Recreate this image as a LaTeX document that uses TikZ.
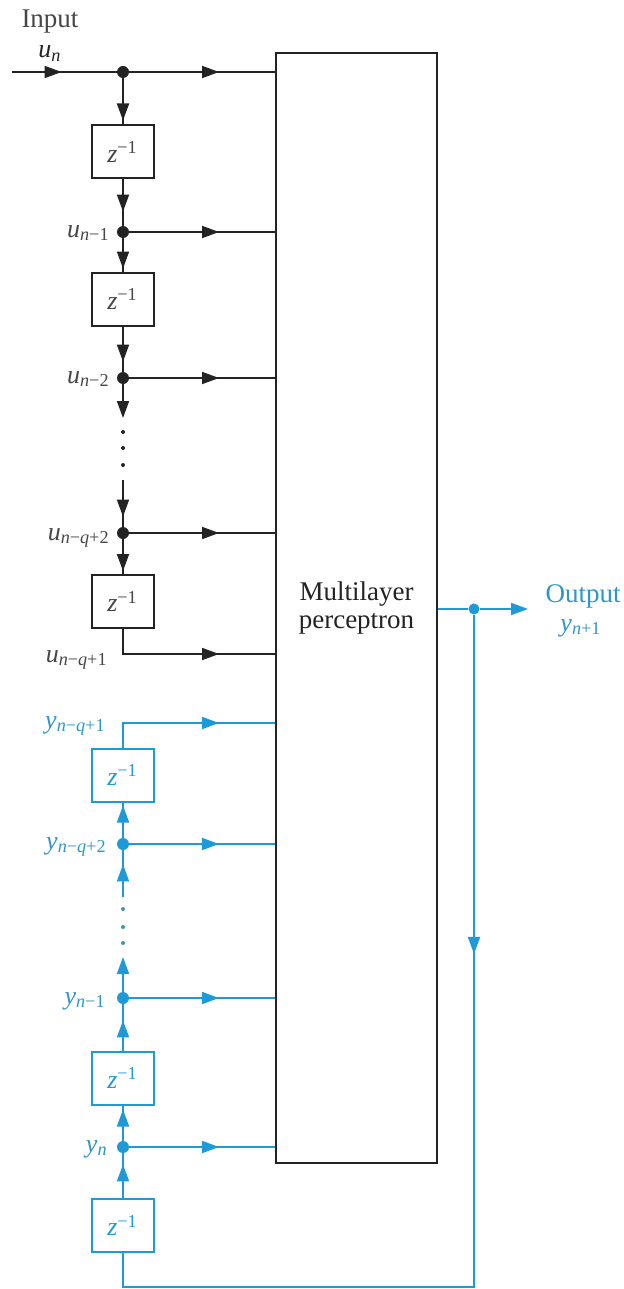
\documentclass[tikz,border=0pt]{standalone}
\usepackage{fontspec}
\setmainfont{Liberation Serif}
\usetikzlibrary{arrows.meta,decorations.markings}
\definecolor{fbc}{RGB}{30,155,215}
\definecolor{ink}{RGB}{35,35,35}
\definecolor{txt}{RGB}{70,70,70}
\newcommand{\sublab}[2]{\textit{#1}\textsubscript{#2}}
\newcommand{\zinv}{\textit{z}\textsuperscript{−1}}
\tikzset{
  markarrow/.style={postaction={decorate},decoration={markings,mark=at position #1 with {\arrow{>}}}},
  delay/.style={draw,minimum width=31pt,minimum height=26.5pt,inner sep=0pt,line width=1pt,font=\fontsize{13}{15}\selectfont},
  dotnode/.style={circle,fill,inner sep=0pt,minimum size=6pt},
  smalldot/.style={circle,fill,inner sep=0pt,minimum size=2pt},
  wire/.style={line width=0.9pt},
  lab/.style={font=\fontsize{13}{15}\selectfont,inner sep=0pt},
  bigtext/.style={font=\fontsize{13.5}{13.5}\selectfont,inner sep=0pt},
}
\begin{document}
\begin{tikzpicture}[x=0.5pt,y=-0.5pt,>={Triangle[length=8.5pt,width=6pt]},line join=miter]
\useasboundingbox (0,0) rectangle (623,1289);
% multilayer perceptron
\node[draw=ink,line width=1pt,minimum width=80.5pt,minimum height=555pt,inner sep=0pt,align=center,bigtext,text=ink] (mlp) at (356.5,608) {Multilayer\\[0.5pt]perceptron};
% black delay line
\coordinate (in) at (12,72);
\node[dotnode,ink] (d0) at (123,72) {};
\node[delay,draw=ink,text=txt] (z1) at (122.5,152) {\zinv};
\node[dotnode,ink] (d1) at (123,232) {};
\node[delay,draw=ink,text=txt] (z2) at (122.5,299) {\zinv};
\node[dotnode,ink] (d2) at (123,378) {};
\coordinate (c1) at (123,418);
\node[smalldot,ink] (e1) at (123,432) {};
\node[smalldot,ink] (e2) at (123,448) {};
\node[smalldot,ink] (e3) at (123,465) {};
\coordinate (c2) at (123,480);
\node[dotnode,ink] (d3) at (123,533) {};
\node[delay,draw=ink,text=txt] (z3) at (122.5,601.5) {\zinv};
\coordinate (c3) at (123,654);
% blue delay line
\coordinate (c4) at (123,723);
\node[delay,draw=fbc,text=fbc] (z4) at (122.5,775) {\zinv};
\node[dotnode,fbc] (d4) at (123,844) {};
\coordinate (c5) at (123,897);
\node[smalldot,fbc!70!gray] (f1) at (123,909) {};
\node[smalldot,fbc!70!gray] (f2) at (123,927) {};
\node[smalldot,fbc!70!gray] (f3) at (123,943) {};
\coordinate (c6) at (123,957);
\node[dotnode,fbc] (d5) at (123,998) {};
\node[delay,draw=fbc,text=fbc] (z5) at (122.5,1078) {\zinv};
\node[dotnode,fbc] (d6) at (123,1147) {};
\node[delay,draw=fbc,text=fbc] (z6) at (122.5,1225.5) {\zinv};
\coordinate (fb) at (123,1287);
\node[dotnode,fbc,minimum size=5.5pt] (od) at (474,609) {};
\coordinate (out) at (528,609);
% black wires
\draw[wire,ink,markarrow=-27.5pt] (in) -- (d0);
\draw[wire,ink,markarrow=-28pt] (d0) -- (d0 -| mlp.west);
\draw[wire,ink,markarrow=-2pt] (d0) -- (d0 |- z1.north);
\draw[wire,ink,markarrow=-7pt] (d1 |- z1.south) -- (d1);
\draw[wire,ink,markarrow=-28pt] (d1) -- (d1 -| mlp.west);
\draw[wire,ink,markarrow=-1.5pt] (d1) -- (d1 |- z2.north);
\draw[wire,ink,markarrow=-5pt] (d2 |- z2.south) -- (d2);
\draw[wire,ink,markarrow=-28pt] (d2) -- (d2 -| mlp.west);
\draw[wire,ink,->] (d2) -- (c1);
\draw[wire,ink,markarrow=-5pt] (c2) -- (d3);
\draw[wire,ink,markarrow=-28pt] (d3) -- (d3 -| mlp.west);
\draw[wire,ink,markarrow=-1.5pt] (d3) -- (d3 |- z3.north);
\draw[wire,ink,markarrow=-28pt] (c3 |- z3.south) -- (c3) -- (c3 -| mlp.west);
% blue wires
\draw[wire,fbc,markarrow=-28pt] (c4 |- z4.north) -- (c4) -- (c4 -| mlp.west);
\draw[wire,fbc,markarrow=-1.5pt] (d4) -- (d4 |- z4.south);
\draw[wire,fbc,markarrow=-28pt] (d4) -- (d4 -| mlp.west);
\draw[wire,fbc,markarrow=-7pt] (c5) -- (d4);
\draw[wire,fbc,->] (d5) -- (c6);
\draw[wire,fbc,markarrow=-28pt] (d5) -- (d5 -| mlp.west);
\draw[wire,fbc,markarrow=-8pt] (d5 |- z5.north) -- (d5);
\draw[wire,fbc,markarrow=-2pt] (d6) -- (d6 |- z5.south);
\draw[wire,fbc,markarrow=-28pt] (d6) -- (d6 -| mlp.west);
\draw[wire,fbc,markarrow=-5.5pt] (d6 |- z6.north) -- (d6);
\draw[wire,fbc] (od -| mlp.east) -- (od);
\draw[wire,fbc,->] (od) -- (out);
\draw[wire,fbc,markarrow=169.5pt] (od) |- (fb) -- (fb |- z6.south);
% labels
\node[bigtext,text=txt] (inputlab) at (50,22) {Input};
\node[lab,text=ink,anchor=base west] (lun) at (38,58) {\sublab{u}{\textit{n}}};
\node[lab,text=txt,anchor=base east] (lu1) at (110,237) {\sublab{u}{\textit{n}−1}};
\node[lab,text=txt,anchor=base east] (lu2) at (110,383) {\sublab{u}{\textit{n}−2}};
\node[lab,text=txt,anchor=base east] (lu3) at (110,540) {\sublab{u}{\textit{n}−\textit{q}+2}};
\node[lab,text=txt,anchor=base east] (lu4) at (108,662) {\sublab{u}{\textit{n}−\textit{q}+1}};
\node[lab,text=fbc!80!gray,anchor=base east] (ly1) at (106,728) {\sublab{y}{\textit{n}−\textit{q}+1}};
\node[lab,text=fbc!80!gray,anchor=base east] (ly2) at (107,849) {\sublab{y}{\textit{n}−\textit{q}+2}};
\node[lab,text=fbc!80!gray,anchor=base east] (ly3) at (106,1004) {\sublab{y}{\textit{n}−1}};
\node[lab,text=fbc!80!gray,anchor=base east] (ly4) at (108,1152) {\sublab{y}{\textit{n}}};
\node[bigtext,text=fbc!85!gray] (outlab) at (583,596) {Output};
\node[lab,text=fbc!80!gray,anchor=base] (lyo) at (581,631) {\sublab{y}{\textit{n}+1}};
\end{tikzpicture}
\end{document}
